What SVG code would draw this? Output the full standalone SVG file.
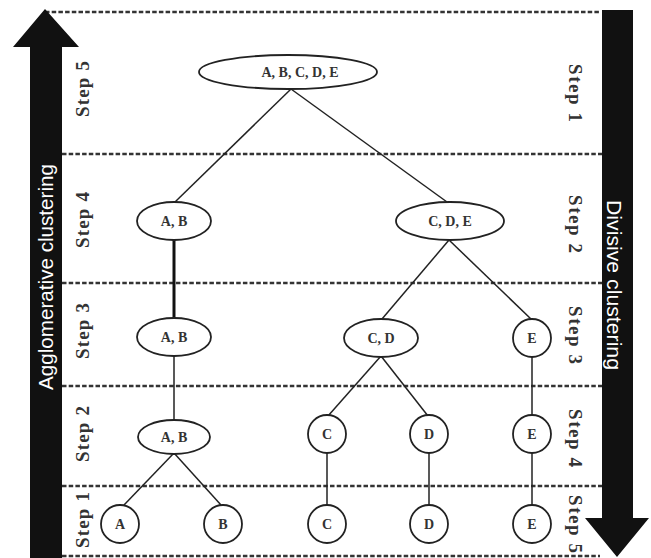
<svg xmlns="http://www.w3.org/2000/svg" width="651" height="558" viewBox="0 0 651 558">
  <style>
    .band { stroke: #333; stroke-width: 2.6; stroke-dasharray: 4.5 2.2; fill: none; }
    .edge { stroke: #222; stroke-width: 1.5; fill: none; }
    .edge-bold { stroke: #111; stroke-width: 3; fill: none; }
    .node { fill: #fff; stroke: #222; stroke-width: 1.8; }
    .lbl { font-family: "Liberation Serif", "Times New Roman", serif; font-weight: bold; font-size: 14px; fill: #333; text-anchor: middle; }
    .step { font-family: "Liberation Serif", "Times New Roman", serif; font-weight: bold; font-size: 19px; fill: #333; text-anchor: middle; }
    .axis { font-family: "Liberation Sans", Arial, sans-serif; font-size: 20px; fill: #fff; text-anchor: middle; }
  </style>
  <rect width="651" height="558" fill="#fff"/>

  <!-- step bands -->
  <g id="bands">
    <line class="band" x1="45" y1="12" x2="601" y2="12"/>
    <line class="band" x1="62" y1="154" x2="602" y2="154"/>
    <line class="band" x1="62" y1="283" x2="602" y2="283"/>
    <line class="band" x1="62" y1="386" x2="602" y2="386"/>
    <line class="band" x1="62" y1="486" x2="602" y2="486"/>
    <line class="band" x1="62" y1="556" x2="600" y2="556"/>
  </g>

  <!-- direction arrows -->
  <g id="agglomerative-arrow">
    <polygon points="45,9 79,47 62,47 62,558 30,558 30,47 13,47" fill="#111"/>
    <text class="axis" transform="translate(53,277) rotate(-90)" textLength="226" lengthAdjust="spacingAndGlyphs">Agglomerative clustering</text>
  </g>
  <g id="divisive-arrow">
    <polygon points="602,10 633,10 633,518 649,518 617,557 585,518 602,518" fill="#111"/>
    <text class="axis" transform="translate(607,285) rotate(90)" textLength="170" lengthAdjust="spacingAndGlyphs">Divisive clustering</text>
  </g>

  <!-- step labels -->
  <g id="steps-left">
    <text class="step" transform="translate(89,89) rotate(-90)" textLength="56">Step 5</text>
    <text class="step" transform="translate(89,220) rotate(-90)" textLength="56">Step 4</text>
    <text class="step" transform="translate(89,331) rotate(-90)" textLength="56">Step 3</text>
    <text class="step" transform="translate(89,434) rotate(-90)" textLength="56">Step 2</text>
    <text class="step" transform="translate(89,520) rotate(-90)" textLength="56">Step 1</text>
  </g>
  <g id="steps-right">
    <text class="step" transform="translate(569,93) rotate(90)" textLength="58">Step 1</text>
    <text class="step" transform="translate(569,224) rotate(90)" textLength="58">Step 2</text>
    <text class="step" transform="translate(569,335) rotate(90)" textLength="58">Step 3</text>
    <text class="step" transform="translate(569,438) rotate(90)" textLength="58">Step 4</text>
    <text class="step" transform="translate(569,524) rotate(90)" textLength="58">Step 5</text>
  </g>

  <!-- connectors -->
  <g id="connectors">
    <line class="edge" x1="291" y1="89" x2="175" y2="202"/>
    <line class="edge" x1="291" y1="89" x2="447" y2="202"/>
    <line class="edge-bold" x1="174" y1="240" x2="174" y2="319"/>
    <line class="edge" x1="449" y1="240" x2="382" y2="319"/>
    <line class="edge" x1="449" y1="240" x2="531" y2="319"/>
    <line class="edge" x1="174" y1="356" x2="174" y2="420"/>
    <line class="edge" x1="381" y1="356" x2="328" y2="416"/>
    <line class="edge" x1="381" y1="356" x2="428" y2="416"/>
    <line class="edge" x1="532" y1="357" x2="532" y2="415"/>
    <line class="edge" x1="174" y1="453" x2="124" y2="505"/>
    <line class="edge" x1="174" y1="453" x2="221" y2="505"/>
    <line class="edge" x1="327" y1="453" x2="327" y2="505"/>
    <line class="edge" x1="429" y1="453" x2="429" y2="505"/>
    <line class="edge" x1="532" y1="453" x2="532" y2="505"/>
  </g>

  <!-- level 5 -->
  <g id="n-abcde">
    <ellipse class="node" cx="288" cy="72" rx="89" ry="17"/>
    <text class="lbl" x="300" y="77">A, B, C, D, E</text>
  </g>

  <!-- level 4 -->
  <g id="n-ab-4">
    <ellipse class="node" cx="174" cy="221" rx="37" ry="19"/>
    <text class="lbl" x="174" y="226">A, B</text>
  </g>
  <g id="n-cde">
    <ellipse class="node" cx="450" cy="221" rx="54" ry="19"/>
    <text class="lbl" x="450" y="226">C, D, E</text>
  </g>

  <!-- level 3 -->
  <g id="n-ab-3">
    <ellipse class="node" cx="174" cy="337" rx="37" ry="19"/>
    <text class="lbl" x="174" y="342">A, B</text>
  </g>
  <g id="n-cd">
    <ellipse class="node" cx="381" cy="338" rx="37" ry="19"/>
    <text class="lbl" x="381" y="343">C, D</text>
  </g>
  <g id="n-e-3">
    <circle class="node" cx="532" cy="338" r="19"/>
    <text class="lbl" x="532" y="343">E</text>
  </g>

  <!-- level 2 -->
  <g id="n-ab-2">
    <ellipse class="node" cx="174" cy="437" rx="36" ry="17"/>
    <text class="lbl" x="174" y="442">A, B</text>
  </g>
  <g id="n-c-2">
    <circle class="node" cx="327" cy="434" r="19"/>
    <text class="lbl" x="327" y="439">C</text>
  </g>
  <g id="n-d-2">
    <circle class="node" cx="429" cy="434" r="19"/>
    <text class="lbl" x="429" y="439">D</text>
  </g>
  <g id="n-e-2">
    <circle class="node" cx="532" cy="434" r="19"/>
    <text class="lbl" x="532" y="439">E</text>
  </g>

  <!-- level 1 -->
  <g id="n-a">
    <circle class="node" cx="120" cy="524" r="19"/>
    <text class="lbl" x="120" y="529">A</text>
  </g>
  <g id="n-b">
    <circle class="node" cx="223" cy="524" r="19"/>
    <text class="lbl" x="223" y="529">B</text>
  </g>
  <g id="n-c-1">
    <circle class="node" cx="327" cy="524" r="19"/>
    <text class="lbl" x="327" y="529">C</text>
  </g>
  <g id="n-d-1">
    <circle class="node" cx="429" cy="524" r="19"/>
    <text class="lbl" x="429" y="529">D</text>
  </g>
  <g id="n-e-1">
    <circle class="node" cx="532" cy="524" r="19"/>
    <text class="lbl" x="532" y="529">E</text>
  </g>
</svg>
